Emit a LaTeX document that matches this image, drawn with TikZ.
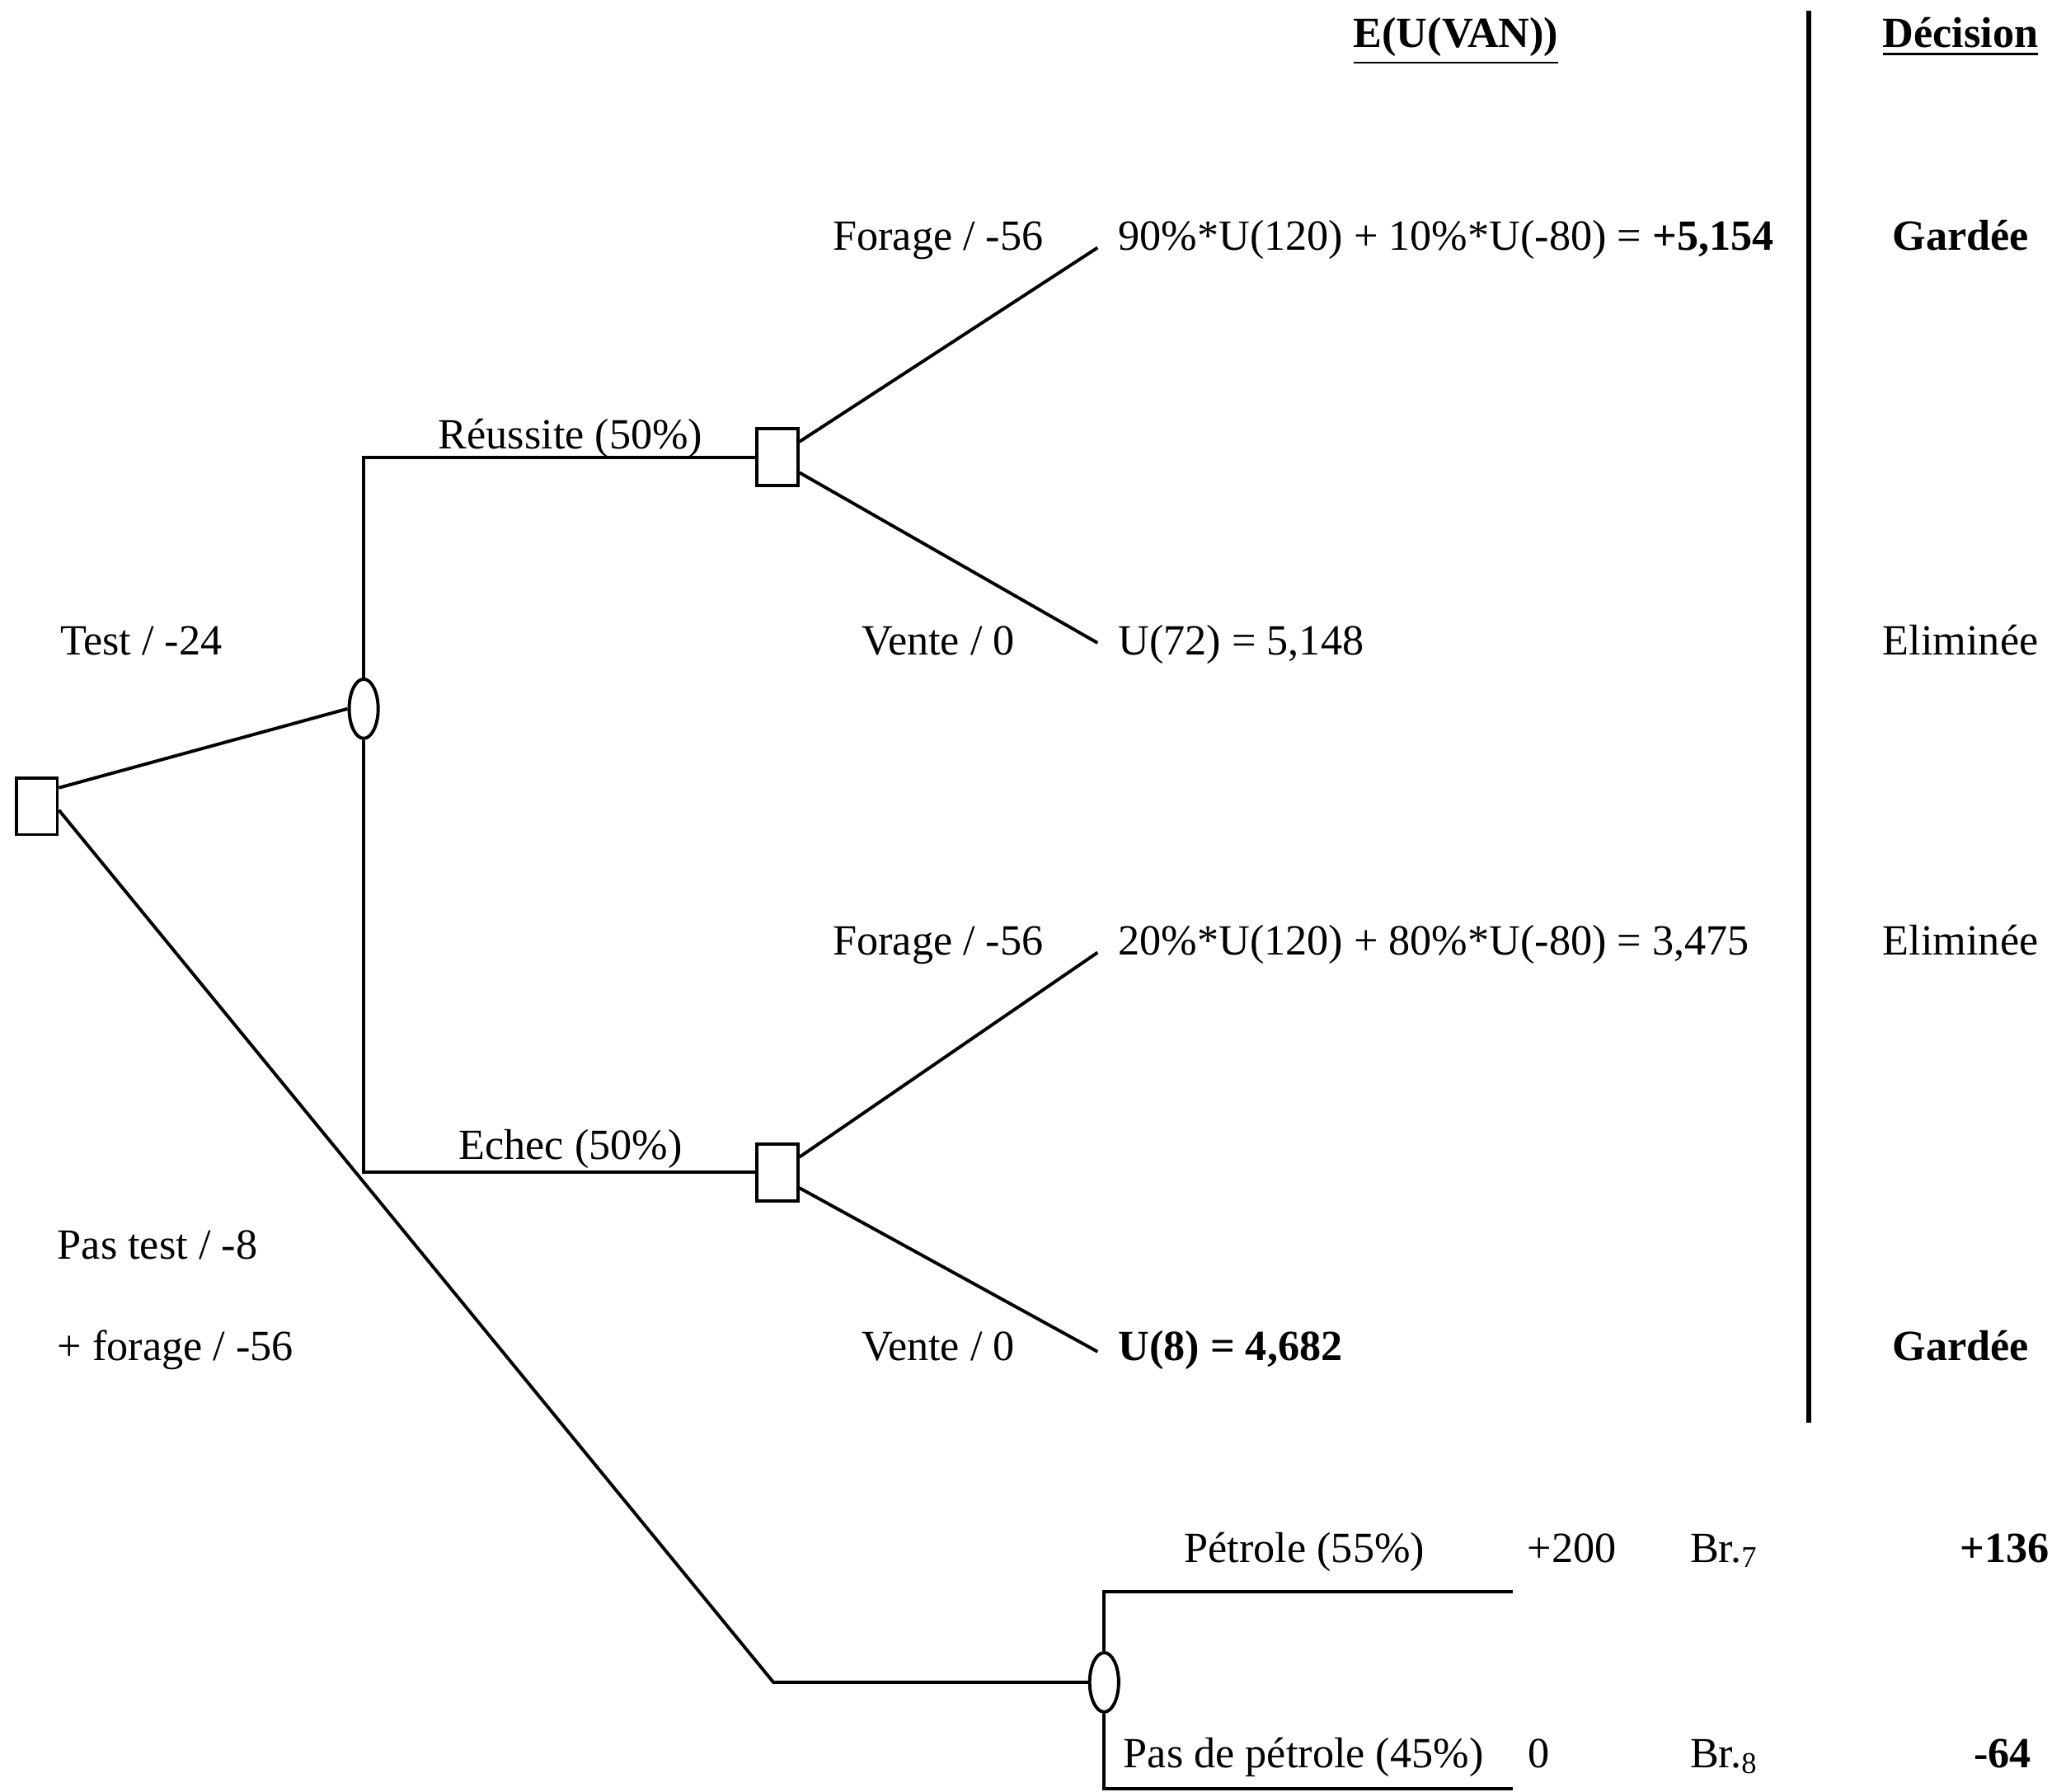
\documentclass[tikz,border=0pt]{standalone}
\usepackage{fontspec}
\setmainfont{Liberation Serif}
\usetikzlibrary{shapes.geometric}

\begin{document}
\begin{tikzpicture}[x=0.1mm, y=-0.1mm, font=\fontsize{9.3}{11}\selectfont,
dec/.style={draw,rectangle,line width=0.7pt,minimum width=3.1mm,minimum height=4.3mm,inner sep=0pt,fill=white},
chance/.style={draw,ellipse,line width=0.7pt,minimum width=2.2mm,minimum height=4.5mm,inner sep=0pt,fill=white},
lbl/.style={inner sep=0pt,text height=7pt,text depth=2pt},
lft/.style={lbl,anchor=west},
rgt/.style={lbl,anchor=east},
branch/.style={line width=0.7pt},
sep/.style={line width=1.1pt}]
\useasboundingbox (0,0) rectangle (1568,1360);
% nodes of the tree
\node[dec] (root) at (28,612) {};
\node[chance] (test) at (276,538) {};
\node[dec] (succ) at (590,347) {};
\node[dec] (fail) at (590,890) {};
\node[chance] (drill) at (838,1277) {};
% free ends
\coordinate (succF) at (833,188); \coordinate (succV) at (833,488);
\coordinate (failF) at (833,723); \coordinate (failV) at (833,1026);
\coordinate (bend) at (587,1277);
\coordinate (oil) at (1148,1208); \coordinate (dry) at (1148,1358);
% branches
\draw[branch] (root.40) -- (test.west);
\draw[branch] (root.-10) -- (bend) -- (drill.west);
\draw[branch] (test.north) |- (succ.west);
\draw[branch] (test.south) |- (fail.west);
\draw[branch] (succ.35) -- (succF); \draw[branch] (succ.-35) -- (succV);
\draw[branch] (fail.35) -- (failF); \draw[branch] (fail.-35) -- (failV);
\draw[branch] (drill.north) |- (oil); \draw[branch] (drill.south) |- (dry);
\draw[sep] (1373,8) -- (1373,1080);
% headers
\node[lbl] (hEU) at (1105,27) {\textbf{\underline{E(U(VAN))}}};
\node[lbl] (hDec) at (1488,27) {\textbf{\underline{Décision}}};
% labels
\node[lbl] (lSucc) at (433,332) {Réussite (50\%)};
\node[lbl] (lFail) at (433,871) {Echec (50\%)};
\node[lft] (lTest) at (45,488) {Test / -24};
\node[lft] (lNo1) at (43,947) {Pas test / -8};
\node[lft] (lNo2) at (43,1024) {+ forage / -56};
\node[lbl] (lF1) at (712,181) {Forage / -56};
\node[lbl] (lV1) at (712,488) {Vente / 0};
\node[lbl] (lF2) at (712,716) {Forage / -56};
\node[lbl] (lV2) at (712,1024) {Vente / 0};
% expected utilities
\node[lft] (eF1) at (848,181) {90\%*U(120) + 10\%*U(-80) = \textbf{+5,154}};
\node[lft] (eV1) at (848,488) {U(72) = 5,148};
\node[lft] (eF2) at (848,716) {20\%*U(120) + 80\%*U(-80) = 3,475};
\node[lft] (eV2) at (848,1024) {\textbf{U(8) = 4,682}};
% decisions
\node[lbl] (dF1) at (1488,181) {\textbf{Gardée}};
\node[lbl] (dV1) at (1488,488) {Eliminée};
\node[lbl] (dF2) at (1488,716) {Eliminée};
\node[lbl] (dV2) at (1488,1024) {\textbf{Gardée}};
% direct drilling
\node[lbl] (lOil) at (990,1177) {Pétrole (55\%)};
\node[lbl] (vOil) at (1193,1177) {+200};
\node[lft] (bOil) at (1282,1177) {Br.\textsubscript{7}};
\node[rgt] (rOil) at (1556,1177) {\textbf{+136}};
\node[lft] (lDry) at (852,1333) {Pas de pétrole (45\%)};
\node[lbl] (vDry) at (1168,1333) {0};
\node[lft] (bDry) at (1282,1333) {Br.\textsubscript{8}};
\node[lbl] (rDry) at (1520,1333) {\textbf{-64}};
\end{tikzpicture}
\end{document}
